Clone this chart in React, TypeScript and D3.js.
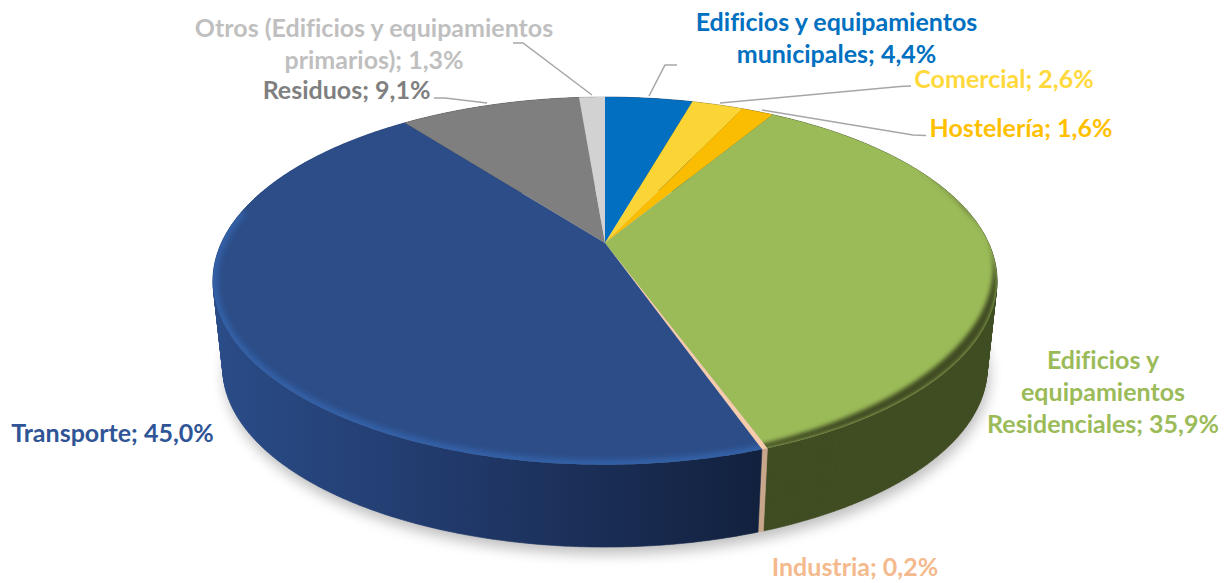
import { useMemo } from "react";
import * as d3 from "d3";

const CATEGORIES = [
  "Edificios y equipamientos municipales",
  "Comercial",
  "Hostelería",
  "Edificios y equipamientos Residenciales",
  "Industria",
  "Transporte",
  "Residuos",
  "Otros (Edificios y equipamientos primarios)",
];
const VALUES = [4.4, 2.6, 1.6, 35.9, 0.2, 45.0, 9.1, 1.3];
const TOP_COLORS = ["#026FC0", "#FBD535", "#FBBD02", "#9BBB59", "#F8CBAD", "#2C4D87", "#7F7F7F", "#D2D2D2"];
const WALL_COLORS = ["#01386A", "#8A7520", "#8A6800", "#404D23", "#C8A78C", "url(#wallBlue)", "#404040", "#8A8A8A"];
const TEXT_COLORS = ["#0070C0", "#FFD93B", "#FFC000", "#9BBB59", "#F4B98C", "#2F5597", "#7F7F7F", "#BFBFBF"];
// words per label line, label anchor and baseline of the first line
const LABEL_WORDS = [[3, 2], [3], [3], [2, 1, 2], [3], [3], [2], [4, 2]];
const LABEL_X = [836.5, 1004, 1021, 1103, 855, 112.5, 346.5, 374];
const LABEL_Y = [30.5, 87.5, 136.5, 368.5, 575.5, 441.5, 98.5, 36.5];
const LEADERS: [number, number][][] = [
  [[677, 65], [665, 65], [649, 96]],
  [[911, 86], [900, 86.5], [720, 103]],
  [[926, 135.5], [913, 135], [762, 110]],
  [],
  [],
  [],
  [[434, 98], [445, 98], [487, 103]],
  [[513, 43], [523, 43], [592, 95]],
];

const WIDTH = 1231;
const HEIGHT = 583;
const CX = 605;
const APEX_Y = 243;
const A = 383.6;
const B = 176;
const K = 0.206;
const DISC_Y = 281; // middle of the top ellipse, lower than the apex because of perspective
const WALL_Y = 368;
const WALL_SCALE = 0.975;

type P = [number, number];

function topPoint(angle: number): P {
  const u = Math.sin(angle);
  const v = -Math.cos(angle);
  const w = 1 - K * v;
  return [CX + (A * u) / w, APEX_Y + (B * v) / w];
}

function bottomPoint(angle: number): P {
  const [x, y] = topPoint(angle);
  return [CX + WALL_SCALE * (x - CX), WALL_Y + WALL_SCALE * (y - DISC_Y)];
}

function arcAngles(a0: number, a1: number) {
  const n = Math.max(2, Math.ceil((a1 - a0) / 0.01));
  return d3.range(n + 1).map((i) => a0 + ((a1 - a0) * i) / n);
}

const line = d3.line();

// the wall band folds over at the silhouette, so build it from quads that all wind the same way
function wallPath(a0: number, a1: number) {
  const angles = arcAngles(a0, a1);
  return d3
    .pairs(angles)
    .map(([p, q]) => {
      const quad: P[] = [topPoint(p), topPoint(q), bottomPoint(q), bottomPoint(p)];
      if (d3.polygonArea(quad) < 0) quad.reverse();
      return line(quad) + "Z";
    })
    .join("");
}

// dark crescent on the green slice: the rounded edge is wider towards the right
function greenBevel() {
  const angles = arcAngles(Math.PI * 0.36, Math.PI * 0.95);
  const inner = angles.map((t): P => {
    const [x, y] = topPoint(t);
    const v = -Math.cos(t);
    return [x - 4 * Math.sin(t), y - 15 * Math.sin(t) * Math.min(1, Math.max(0.15, (v + 0.25) / 0.5))];
  });
  return line([...angles.map(topPoint), ...inner.reverse()]) + "Z";
}

function percent(v: number) {
  return `${v.toFixed(1).replace(".", ",")}%`;
}

function labelLines(i: number) {
  const words = `${CATEGORIES[i]}; ${percent(VALUES[i])}`.split(" ");
  let at = 0;
  return LABEL_WORDS[i].map((count) => {
    const text = words.slice(at, at + count).join(" ");
    at += count;
    return text;
  });
}

export default function App() {
  const arcs = useMemo(() => d3.pie<number>().sort(null)(VALUES), []);

  const rim = arcAngles(0, Math.PI * 2);
  const frontRim = arcAngles(Math.PI * 0.44, Math.PI * 1.56);

  return (
    <svg
      width={WIDTH}
      height={HEIGHT}
      style={{ position: "absolute", left: 0, top: 0, background: "#fff", fontVariantLigatures: "none" }}
      fontFamily="Lato, Carlito, sans-serif"
      fontWeight={700}
      fontSize={25}
    >
      <defs>
        <linearGradient id="wallBlue" gradientUnits="userSpaceOnUse" x1={215} x2={757} y1={0} y2={0}>
          <stop offset="0" stopColor="#2A4C88" />
          <stop offset="0.45" stopColor="#21396A" />
          <stop offset="1" stopColor="#12213E" />
        </linearGradient>
        <filter id="shadowBlur" x="-10%" y="-20%" width="120%" height="140%">
          <feGaussianBlur stdDeviation="7" />
        </filter>
        <filter id="bevelBlur" x="-10%" y="-20%" width="120%" height="140%">
          <feGaussianBlur stdDeviation="3" />
        </filter>
        <filter id="greenBlur" x="-10%" y="-20%" width="120%" height="140%">
          <feGaussianBlur stdDeviation="2.2" />
        </filter>
        {arcs.map((d, i) => (
          <clipPath id={`slice${i}`} key={i}>
            <path d={line([[CX, APEX_Y], ...arcAngles(d.startAngle, d.endAngle).map(topPoint)])! + "Z"} />
          </clipPath>
        ))}
      </defs>

      {/* soft shadow under the disc */}
      <path
        d={line(rim.map(bottomPoint).map(([x, y]) => [x + 2, y + 7] as P))! + "Z"}
        fill="#000"
        opacity={0.26}
        filter="url(#shadowBlur)"
      />

      {arcs.map((d, i) => (
        <path
          key={i}
          d={wallPath(d.startAngle, d.endAngle)}
          fill={WALL_COLORS[i]}
          stroke={WALL_COLORS[i]}
          strokeWidth={0.6}
        />
      ))}

      {arcs.map((d, i) => (
        <path
          key={i}
          d={line([[CX, APEX_Y], ...arcAngles(d.startAngle, d.endAngle).map(topPoint)])! + "Z"}
          fill={TOP_COLORS[i]}
        />
      ))}

      {/* bevel along the front rim */}
      <g clipPath="url(#slice3)">
        <path d={greenBevel()} fill="#3F4C23" filter="url(#greenBlur)" />
      </g>
      <g clipPath="url(#slice5)">
        <path d={line(frontRim.map(topPoint))!} fill="none" stroke="#3565AE" strokeWidth={8} filter="url(#bevelBlur)" />
      </g>

      {LEADERS.map((pts, i) =>
        pts.length ? <path key={i} d={line(pts)!} fill="none" stroke="#A6A6A6" strokeWidth={1.5} /> : null
      )}

      {CATEGORIES.map((_, i) => (
        <text key={i} textAnchor="middle" fill={TEXT_COLORS[i]}>
          {labelLines(i).map((t, j) => (
            <tspan key={j} x={LABEL_X[i]} y={LABEL_Y[i] + j * 32}>
              {t}
            </tspan>
          ))}
        </text>
      ))}
    </svg>
  );
}
